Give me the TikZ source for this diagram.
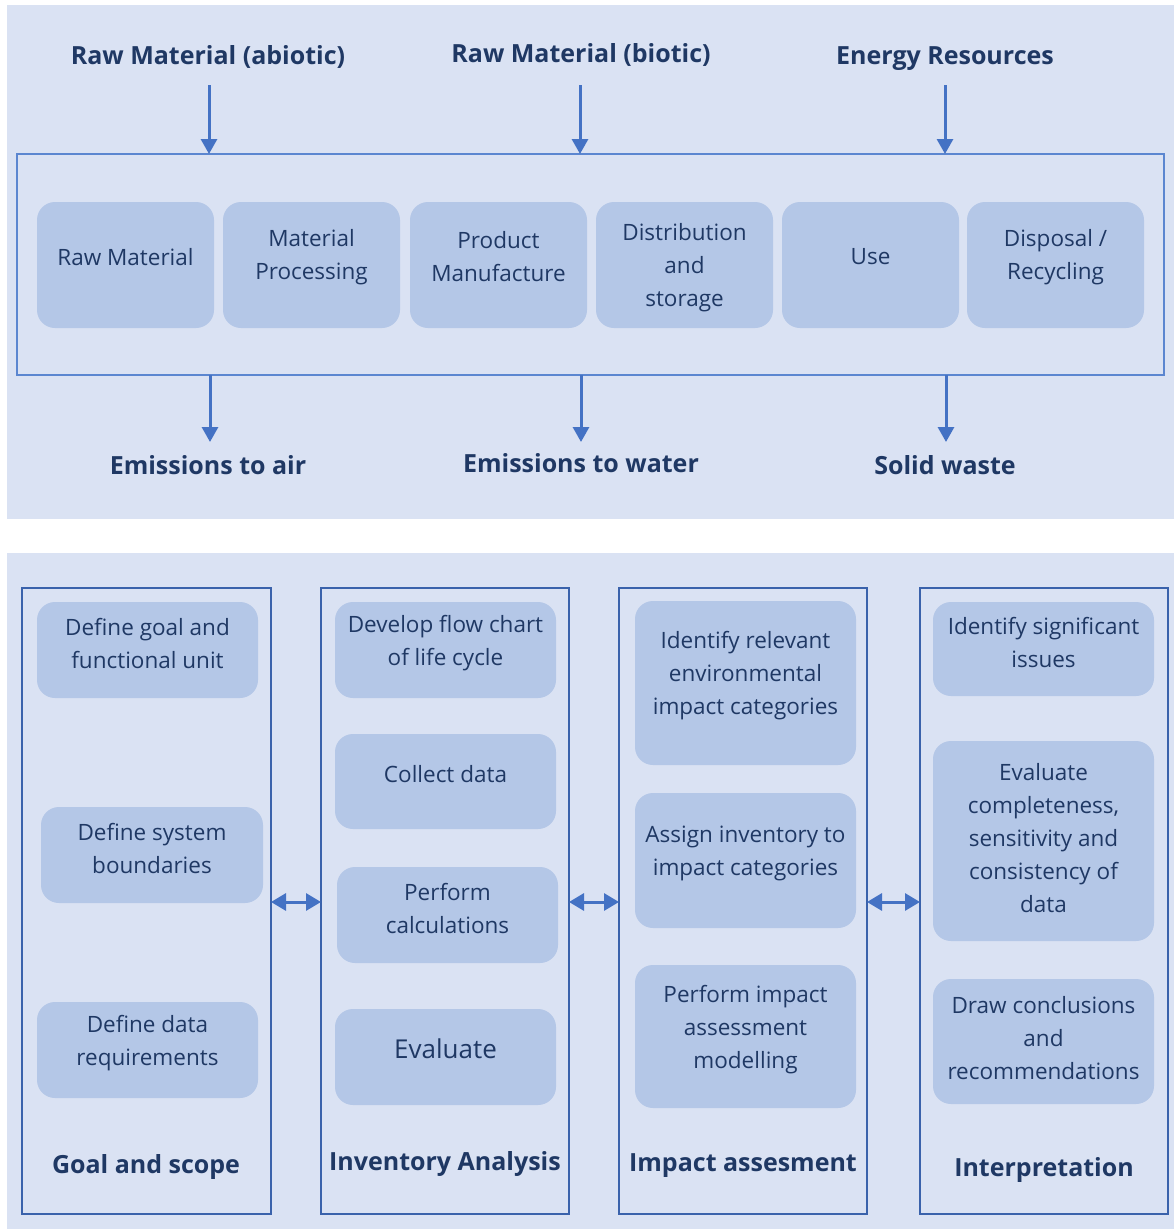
\documentclass[tikz,border=0pt]{standalone}
\usepackage{fontspec}
\setmainfont{Open Sans}
\usetikzlibrary{arrows.meta}
\definecolor{panel}{HTML}{DAE2F3}
\definecolor{boxc}{HTML}{B4C7E7}
\definecolor{txt}{HTML}{1F3864}
\definecolor{arr}{HTML}{4472C4}
\definecolor{frameA}{HTML}{5B86D0}
\definecolor{frameB}{HTML}{3A62AB}
\tikzset{
  boxshape/.style={fill=boxc, rounded corners=18pt, inner sep=0pt, outer sep=0pt},
  boxtext/.style={text=txt, align=center, inner sep=0pt, font=\fontsize{22.5}{33}\selectfont},
  heading/.style={text=txt, inner sep=0pt, text height=17.8pt, text depth=0pt, font=\bfseries\fontsize{25}{30}\selectfont},
  colframe/.style={draw=frameB, line width=1.5pt, inner sep=0pt, outer sep=0pt},
  lcframe/.style={draw=frameA, line width=1.8pt, inner sep=0pt, outer sep=0pt},
  flowarrow/.style={draw=arr, line width=3pt, -{Triangle[width=16pt,length=15pt]}},
  dblarrow/.style={draw=arr, line width=3pt, {Triangle[width=17pt,length=15pt]}-{Triangle[width=17pt,length=15pt]}},
}
% name, x1, y1, x2, y2, text-shift (up), text
\newcommand\mybox[7]{%
  \node[boxshape, minimum width={#4-#2}, minimum height={#5-#3}] (#1) at ({(#2+#4)/2},{(#3+#5)/2}) {};
  \node[boxtext] (#1t) at ({(#2+#4)/2},{(#3+#5)/2-#6}) {#7};
}
\newcommand\myframe[6]{%
  \node[#6, minimum width={#4-#2}, minimum height={#5-#3}] (#1) at ({(#2+#4)/2},{(#3+#5)/2}) {};
}
\begin{document}
\begin{tikzpicture}[x=1pt,y=-1pt]
\useasboundingbox (0,0) rectangle (1174,1229);
\fill[white] (0,0) rectangle (1174,1229);
% panels
\fill[panel] (7,5) rectangle (1174,519);
\fill[panel] (7,553) rectangle (1174,1229);

% ---------- top panel ----------
\myframe{lc}{17}{154}{1164}{375}{lcframe}

\node[heading] (in1) at (208,56) {Raw Material (abiotic)};
\node[heading] (in2) at (581,54) {Raw Material (biotic)};
\node[heading] (in3) at (945,56) {Energy Resources};

\coordinate (a1) at (209,85);
\coordinate (a2) at (580,85);
\coordinate (a3) at (945,85);
\draw[flowarrow] (a1) -- (a1 |- lc.north);
\draw[flowarrow] (a2) -- (a2 |- lc.north);
\draw[flowarrow] (a3) -- (a3 |- lc.north);

\mybox{s1}{37}{202}{214}{328}{8}{Raw Material}
\mybox{s2}{223}{202}{400}{328}{8}{Material\\Processing}
\mybox{s3}{410}{202}{587}{328}{8}{Product\\Manufacture}
\mybox{s4}{596}{202}{773}{328}{-3}{Distribution\\and\\storage}
\mybox{s5}{782}{202}{959}{328}{8}{Use}
\mybox{s6}{967}{202}{1144}{328}{8}{Disposal /\\Recycling}

\coordinate (e1) at (210,442);
\coordinate (e2) at (581,442);
\coordinate (e3) at (946,442);
\draw[flowarrow] (e1 |- lc.south) -- (e1);
\draw[flowarrow] (e2 |- lc.south) -- (e2);
\draw[flowarrow] (e3 |- lc.south) -- (e3);

\node[heading] (out1) at (208,466) {Emissions to air};
\node[heading] (out2) at (581,464) {Emissions to water};
\node[heading] (out3) at (945,466) {Solid waste};

% ---------- bottom panel ----------
\myframe{c1}{22}{588}{271}{1214}{colframe}
\myframe{c2}{321}{588}{569}{1214}{colframe}
\myframe{c3}{619}{588}{867}{1214}{colframe}
\myframe{c4}{920}{588}{1168}{1214}{colframe}

\mybox{g1}{37}{602}{258}{698}{7}{Define goal and\\functional unit}
\mybox{g2}{41}{807}{263}{903}{7}{Define system\\boundaries}
\mybox{g3}{37}{1002}{258}{1098}{7}{Define data\\requirements}
\node[heading] (h1) at (146,1165) {Goal and scope};

\mybox{i1}{335}{602}{556}{698}{7}{Develop flow chart\\of life cycle}
\mybox{i2}{335}{734}{556}{829}{7}{Collect data}
\mybox{i3}{337}{867}{558}{963}{7}{Perform\\calculations}
\mybox{i4}{335}{1009}{556}{1105}{8}{\fontsize{26}{33}\selectfont Evaluate}
\node[heading] (h2) at (445,1162) {Inventory Analysis};

\mybox{m1}{635}{601}{856}{765}{7}{Identify relevant\\environmental\\impact categories}
\mybox{m2}{635}{793}{856}{928}{7}{Assign inventory to\\impact categories}
\mybox{m3}{635}{965}{856}{1108}{7}{Perform impact\\assessment\\modelling}
\node[heading] (h3) at (743,1163) {Impact assesment};

\mybox{p1}{933}{602}{1154}{696}{7}{Identify significant\\issues}
\mybox{p2}{933}{741}{1154}{941}{3}{Evaluate\\completeness,\\sensitivity and\\consistency of\\data}
\mybox{p3}{933}{979}{1154}{1104}{3}{Draw conclusions\\and\\recommendations}
\node[heading] (h4) at (1044,1168) {Interpretation};

\coordinate (row) at (0,902);
\draw[dblarrow] (c1.east |- row) -- (c2.west |- row);
\draw[dblarrow] (c2.east |- row) -- (c3.west |- row);
\draw[dblarrow] (c3.east |- row) -- (c4.west |- row);
\end{tikzpicture}
\end{document}
